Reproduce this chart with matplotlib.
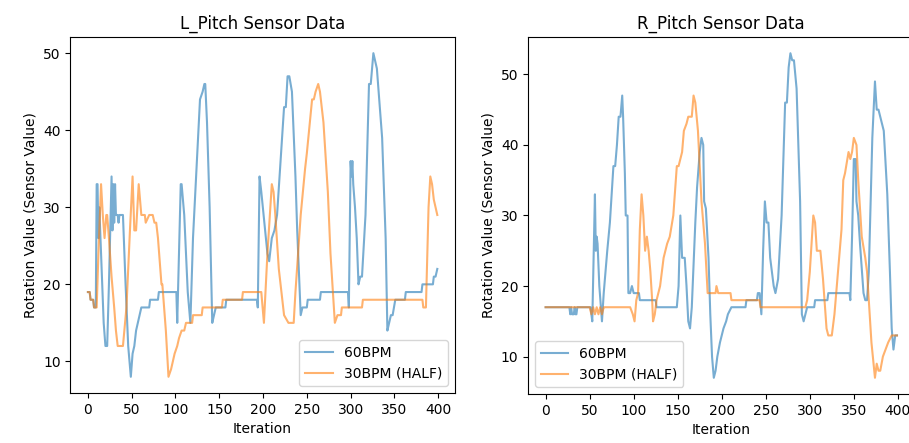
import matplotlib
matplotlib.use("Agg")
import matplotlib.pyplot as plt

# key points (iteration, sensor value)
L60_X = [0, 2, 3, 6, 7, 9, 10, 11, 12, 13, 14, 15, 18, 20, 22, 24, 27, 28, 29, 30, 31, 32, 34, 35, 36, 40,
         43, 46, 49, 51, 53, 55, 57, 59, 61, 70, 71, 80, 81, 101, 102, 106, 107, 110, 114, 117, 120, 124,
         128, 131, 133, 134, 136, 139, 142, 144, 146, 157, 158, 193, 194, 196, 198, 205, 207, 210, 213,
         216, 220, 224, 226, 228, 230, 233, 237, 239, 243, 245, 250, 251, 265, 266, 297, 298, 300, 301,
         302, 303, 305, 307, 309, 311, 313, 317, 321, 323, 326, 328, 330, 336, 340, 342, 344, 346, 348,
         351, 362, 363, 381, 382, 394, 395, 397, 399]
L60_Y = [19, 19, 18, 18, 17, 17, 33, 33, 26, 30, 27, 24, 15, 12, 12, 20, 34, 27, 33, 28, 33, 29, 29, 28, 29, 29,
         20, 12, 8, 11, 12, 14, 15, 16, 17, 17, 18, 18, 19, 19, 15, 33, 33, 29, 19, 15, 26, 35,
         44, 45, 46, 46, 41, 30, 15, 16, 17, 17, 18, 18, 17, 34, 32, 24, 23, 26, 27,
         29, 36, 43, 43, 47, 47, 45, 34, 27, 16, 17, 17, 18, 18, 19, 19, 17, 36, 34,
         36, 33, 30, 26, 20, 21, 21, 29, 46, 46, 50, 49, 48, 39, 26, 14, 15, 16, 16,
         18, 18, 19, 19, 20, 20, 21, 21, 22]

L30_X = [0, 2, 3, 6, 7, 10, 12, 15, 17, 19, 21, 22, 24, 27, 30, 32, 34, 40, 44, 48, 51, 53, 55, 58, 61, 65,
         66, 70, 74, 76, 78, 80, 84, 85, 89, 92, 95, 97, 99, 102, 104, 107, 110, 112, 119, 120, 130, 131,
         153, 154, 176, 177, 198, 201, 205, 210, 212, 214, 218, 224, 229, 235, 237, 243, 248, 250, 256,
         258, 260, 263, 265, 269, 274, 277, 282, 285, 289, 290, 313, 314, 382, 383, 386, 389, 391, 393,
         395, 397, 399]
L30_Y = [19, 19, 18, 18, 17, 17, 24, 33, 29, 26, 29, 29, 26, 21, 17, 14, 12, 12, 17, 27, 34, 27, 27, 33, 29, 29,
         28, 29, 29, 28, 28, 26, 20, 20, 14, 8, 9, 10, 11, 12, 13, 14, 14, 15, 15, 16, 16, 17,
         17, 18, 18, 19, 19, 15, 24, 33, 32, 29, 22, 16, 15, 15, 19, 29, 35, 37, 44,
         44, 45, 46, 45, 41, 32, 24, 15, 16, 16, 17, 17, 18, 18, 17, 17, 30, 34, 33,
         31, 30, 29]

R60_X = [0, 27, 28, 29, 30, 32, 33, 34, 35, 36, 51, 53, 56, 57, 58, 59, 61, 64, 66, 70, 73, 77, 79, 81, 83,
         85, 87, 88, 90, 91, 93, 94, 96, 98, 100, 106, 107, 125, 126, 149, 151, 153, 155, 158, 160, 162,
         164, 166, 170, 172, 175, 177, 179, 180, 182, 185, 187, 189, 191, 193, 195, 198, 202, 205, 207,
         211, 227, 228, 240, 241, 243, 245, 247, 249, 251, 253, 255, 259, 261, 264, 268, 272, 274, 276,
         278, 280, 282, 285, 289, 291, 293, 295, 297, 305, 306, 320, 321, 345, 346, 348, 350, 352, 353,
         355, 357, 361, 363, 365, 367, 371, 374, 376, 378, 380, 384, 388, 391, 393, 395, 397, 399]
R60_Y = [17, 17, 16, 17, 16, 16, 17, 16, 16, 17, 17, 15, 33, 25, 27, 26, 20, 15, 19, 25, 29, 37, 37, 40, 44,
         44, 47, 44, 36, 30, 30, 19, 19, 20, 19, 19, 18, 18, 17, 17, 20, 30, 24, 24, 20, 15,
         14, 17, 29, 34, 39, 41, 40, 32, 31, 24, 16, 10, 7, 8, 10, 12, 14, 15, 16,
         17, 17, 18, 18, 19, 19, 16, 25, 32, 29, 29, 24, 20, 19, 21, 30, 46, 46, 51,
         53, 52, 52, 48, 32, 16, 15, 16, 17, 17, 18, 18, 19, 19, 18, 27, 38, 38, 32,
         30, 26, 19, 18, 18, 22, 41, 49, 45, 45, 44, 42, 33, 22, 14, 11, 13, 13]

R30_X = [0, 50, 52, 54, 56, 58, 60, 62, 64, 66, 67, 96, 99, 101, 103, 105, 107, 109, 111, 113, 115, 117, 119,
         121, 122, 124, 126, 130, 134, 138, 141, 145, 149, 151, 155, 157, 160, 162, 166, 168, 170, 173,
         177, 181, 184, 193, 194, 196, 210, 211, 243, 244, 295, 297, 300, 304, 306, 308, 312, 315, 319,
         321, 325, 328, 332, 336, 338, 340, 344, 346, 348, 350, 353, 355, 359, 363, 365, 368, 370, 374,
         376, 378, 380, 383, 386, 389, 393, 399]
R30_Y = [17, 17, 16, 17, 16, 17, 16, 17, 16, 17, 17, 17, 16, 15, 18, 19, 28, 33, 30, 25, 27, 25, 22,
         18, 15, 16, 18, 20, 24, 26, 27, 30, 37, 37, 39, 42, 43, 44, 44, 47, 46, 42,
         32, 26, 19, 19, 20, 19, 19, 18, 18, 17, 17, 18, 22, 30, 29, 25, 25, 21, 14,
         13, 13, 16, 22, 28, 35, 36, 39, 38, 39, 41, 40, 35, 27, 24, 22, 16, 12, 7,
         9, 8, 8, 10, 11, 12, 13, 13]

fig = plt.figure(figsize=(9.09, 4.43), dpi=100)
ax_l = fig.add_axes([0.0775, 0.1129, 0.4228, 0.8036])
ax_r = fig.add_axes([0.5809, 0.1106, 0.4252, 0.8059])

panels = [
    (ax_l, "L_Pitch Sensor Data", L60_X, L60_Y, L30_X, L30_Y, "lower right"),
    (ax_r, "R_Pitch Sensor Data", R60_X, R60_Y, R30_X, R30_Y, "lower left"),
]
for ax, title, x60, y60, x30, y30, loc in panels:
    ax.plot(x60, y60, color="C0", alpha=0.6, label="60BPM")
    ax.plot(x30, y30, color="C1", alpha=0.6, label="30BPM (HALF)")
    ax.set_title(title)
    ax.set_xlabel("Iteration")
    ax.set_ylabel("Rotation Value (Sensor Value)")
    ax.legend(loc=loc)

fig.savefig("out.png", dpi=100)
